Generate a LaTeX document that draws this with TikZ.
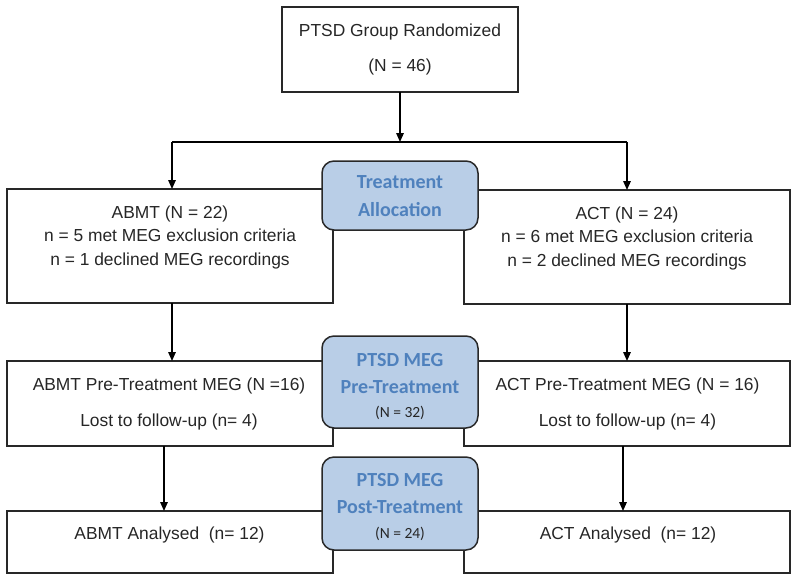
\documentclass[tikz,border=0pt]{standalone}
\usepackage{fontspec}
\setmainfont{Liberation Sans}
\newfontfamily\calib{Carlito}
\usetikzlibrary{arrows.meta}
\definecolor{bfill}{RGB}{185,206,231}
\definecolor{btext}{RGB}{79,129,189}
\definecolor{lc}{RGB}{40,40,40}
\begin{document}
\begin{tikzpicture}[x=1pt,y=-1pt,
 box/.style={draw=lc,line width=1.3pt,inner sep=0,outer sep=0},
 rbox/.style={draw=lc,fill=bfill,line width=1.5pt,rounded corners=12pt,inner sep=0,outer sep=0,minimum width=156pt},
 txt/.style={anchor=base,font=\fontsize{17.4}{20}\selectfont,text=black!85,inner sep=0},
 btxt/.style={anchor=base,font=\calib\bfseries\fontsize{20}{23}\selectfont,text=btext,inner sep=0},
 stxt/.style={anchor=base,font=\calib\fontsize{15.5}{18}\selectfont,text=black!85,inner sep=0},
 arr/.style={line width=1.5pt,draw=black,-{Triangle[length=9pt,width=7.5pt]}},
 ln/.style={line width=1.5pt,draw=black}]
\useasboundingbox (0,0) rectangle (800,582);
% rectangles
\node[box,minimum width=236pt,minimum height=85pt] (top) at (400,49.5) {};
\node[box,minimum width=326pt,minimum height=114pt] (abmt) at (170,246) {};
\node[box,minimum width=326pt,minimum height=114pt] (act) at (627,247) {};
\node[box,minimum width=326pt,minimum height=85pt] (abmtpre) at (170,403.5) {};
\node[box,minimum width=326pt,minimum height=85pt] (actpre) at (627,403.5) {};
\node[box,minimum width=326pt,minimum height=62pt] (abmtan) at (170,542) {};
\node[box,minimum width=326pt,minimum height=62pt] (actan) at (627,542) {};
% rounded boxes
\node[rbox,minimum height=69pt] (alloc) at (400,195.5) {};
\node[rbox,minimum height=92pt] (pre) at (400,382) {};
\node[rbox,minimum height=93pt] (post) at (400,503.5) {};
% texts
\node[txt] (t1) at (400,36) {PTSD Group Randomized};
\node[txt] (t2) at (400,71) {(N = 46)};
\node[txt] (a1) at (170,218) {ABMT (N = 22)};
\node[txt] (a2) at (170,241) {n = 5 met MEG exclusion criteria};
\node[txt] (a3) at (170,265) {n = 1 declined MEG recordings};
\node[txt] (c1) at (627,219) {ACT (N = 24)};
\node[txt] (c2) at (627,242) {n = 6 met MEG exclusion criteria};
\node[txt] (c3) at (627,266) {n = 2 declined MEG recordings};
\node[txt] (ap1) at (169,390) {ABMT Pre-Treatment MEG (N =16)};
\node[txt] (ap2) at (169,426) {Lost to follow-up (n= 4)};
\node[txt] (cp1) at (627.5,390) {ACT Pre-Treatment MEG (N = 16)};
\node[txt] (cp2) at (627.5,426) {Lost to follow-up (n= 4)};
\node[txt] (aa) at (169.5,539) {ABMT Analysed\ \ (n= 12)};
\node[txt] (ca) at (628,539) {ACT Analysed\ \ (n= 12)};
\node[btxt] (al1) at (400,188) {Treatment};
\node[btxt] (al2) at (400,216) {Allocation};
\node[btxt] (pr1) at (400,366) {PTSD MEG};
\node[btxt] (pr2) at (400,393) {Pre-Treatment};
\node[stxt] (pr3) at (400,417) {(N = 32)};
\node[btxt] (po1) at (400,486) {PTSD MEG};
\node[btxt] (po2) at (400,513) {Post-Treatment};
\node[stxt] (po3) at (400,538) {(N = 24)};
% connectors
\coordinate (br) at (400,142);
\coordinate (brL) at (172,142);
\coordinate (brR) at (627,142);
\draw[arr] (top.south) -- (br);
\draw[ln] (brL) -- (brR);
\draw[arr] (brL) -- (brL |- abmt.north);
\draw[arr] (brR) -- (brR |- act.north);
\draw[arr] ([xshift=2pt]abmt.south) -- ([xshift=2pt]abmtpre.north);
\draw[arr] (act.south) -- (act.south |- actpre.north);
\draw[arr] ([xshift=-6pt]abmtpre.south) -- ([xshift=-6pt]abmtan.north);
\draw[arr] ([xshift=-4pt]actpre.south) -- ([xshift=-4pt]actan.north);
\end{tikzpicture}
\end{document}
